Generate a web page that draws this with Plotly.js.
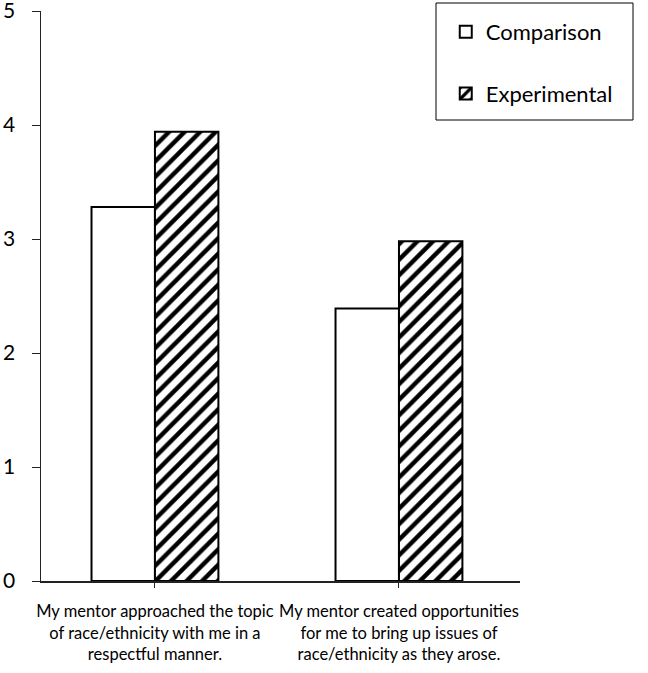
<!DOCTYPE html>
<html>
<head>
<meta charset="utf-8">
<script src="https://cdn.plot.ly/plotly-3.0.1.min.js"></script>
<style>html,body{margin:0;padding:0;background:#fff;}#chart{width:648px;height:673px;}</style>
</head>
<body>
<div id="chart"></div>
<script>
const categories = [
  "My mentor approached the topic<br>of race/ethnicity with me in a<br>respectful manner.",
  "My mentor created opportunities<br>for me to bring up issues of<br>race/ethnicity as they arose."
];
const comparisonValues = [3.28, 2.39];
const experimentalValues = [3.94, 2.98];
const seriesNames = ["Comparison", "Experimental"];
const yTicks = [0, 1, 2, 3, 4, 5];

const font = "Lato, 'Open Sans', sans-serif";

const traces = [
  {
    type: "bar", name: seriesNames[0], x: categories, y: comparisonValues,
    legendgroup: "a",
    marker: {color: "#ffffff", line: {color: "#000", width: 2}},
    hoverinfo: "skip"
  },
  {
    type: "bar", name: seriesNames[1], x: categories, y: experimentalValues,
    legendgroup: "b",
    marker: {color: "#ffffff", line: {color: "#000", width: 2},
      pattern: {shape: "/", fgcolor: "#000", bgcolor: "#fff", size: 11, solidity: 0.4}},
    hoverinfo: "skip"
  }
];

const layout = {
  width: 648, height: 673,
  margin: {l: 41, r: 128, t: 11, b: 92},
  paper_bgcolor: "#fff", plot_bgcolor: "#fff",
  font: {family: font, color: "#000"},
  barmode: "group",
  bargap: 0.48, bargroupgap: 0,
  showlegend: true,
  legend: {
    x: 0.845, xanchor: "left", y: 1.0, yanchor: "top",
    font: {size: 22, family: font},
    tracegroupgap: 30,
    bgcolor: "rgba(0,0,0,0)", borderwidth: 0
  },
  xaxis: {
    type: "category", range: [-0.467, 1.496],
    showline: true, linecolor: "#222", linewidth: 1.5,
    ticks: "outside", ticklen: 5, tickcolor: "#222",
    tickangle: 0, ticklabelstandoff: 10,
    tickfont: {size: 16.5, family: font},
    showgrid: false, zeroline: false, fixedrange: true
  },
  yaxis: {
    range: [0, 5], tickvals: yTicks, ticktext: yTicks.map(String),
    showline: true, linecolor: "#222", linewidth: 1.5,
    ticks: "outside", ticklen: 8, tickcolor: "#222",
    ticklabelstandoff: 12, ticklabeloverflow: "allow",
    tickfont: {size: 21, family: font},
    showgrid: false, zeroline: false, fixedrange: true
  },
  shapes: [
    {type: "rect", xref: "paper", yref: "paper",
     x0: (436-41)/479, x1: (633-41)/479, y0: (581-120)/570, y1: (581-3)/570,
     line: {color: "#000", width: 1}, fillcolor: "rgba(0,0,0,0)"}
  ]
};

Plotly.newPlot("chart", traces, layout, {displayModeBar: false, staticPlot: true});
</script>
</body>
</html>
